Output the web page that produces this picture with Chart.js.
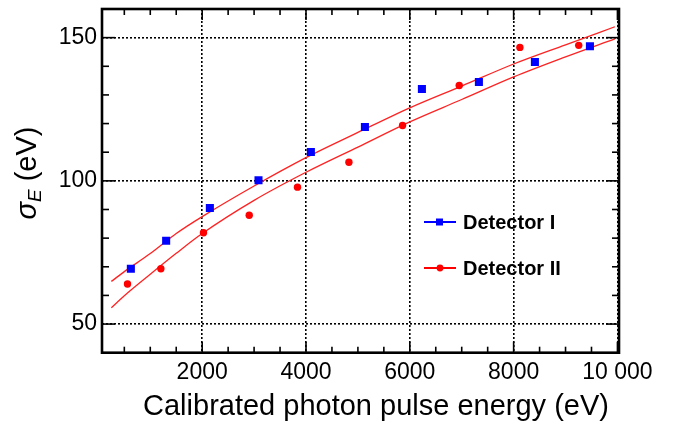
<!DOCTYPE html>
<html>
<head>
<meta charset="utf-8">
<script src="https://cdn.jsdelivr.net/npm/chart.js@4.4.1/dist/chart.umd.min.js"></script>
<style>
  html, body { margin: 0; padding: 0; background: #fff; }
</style>
</head>
<body>
<canvas id="chart" width="678" height="424"></canvas>
<script>
  // measured points (energy in eV, sigma_E in eV)
  const det1Energy = [626, 1306, 2148, 3085, 4094, 5135, 6233, 7331, 8410, 9470];
  const det1Sigma = [69.3, 79.1, 90.5, 100.2, 110.1, 118.8, 132.1, 134.5, 141.5, 147.0];
  const det2Energy = [561, 1204, 2025, 2906, 3836, 4827, 5860, 6952, 8121, 9254];
  const det2Sigma = [64.0, 69.3, 81.9, 88.0, 97.8, 106.5, 119.3, 133.3, 146.6, 147.3];

  // fit curves
  const fitEnergy = [250, 500, 1000, 1500, 2000, 3000, 4000, 5000, 6000, 7000, 8000, 9000, 9950];
  const fitUpper = [64.9, 68.3, 74.6, 81.6, 87.5, 98.2, 108.1, 116.9, 125.5, 133.1, 140.8, 147.5, 153.8];
  const fitLower = [55.7, 59.9, 67.4, 74.7, 81.6, 93.2, 103.0, 111.8, 120.6, 128.4, 136.3, 143.3, 149.6];

  const legendLabels = ["Detector I", "Detector II"];
  const xTitle = "Calibrated photon pulse energy (eV)";

  const xTickValues = [2000, 4000, 6000, 8000, 10000];
  const xTickLabels = ["2000", "4000", "6000", "8000", "10 000"];
  const xMinorTicks = [500, 1000, 1500, 2500, 3000, 3500, 4500, 5000, 5500, 6500, 7000, 7500, 8500, 9000, 9500];
  const yTickValues = [50, 100, 150];
  const yTickLabels = ["50", "100", "150"];
  const yMinorTicks = [60, 70, 80, 90, 110, 120, 130, 140];

  const FONT = '"Liberation Sans", Arial, Helvetica, sans-serif';

  function toXY(xs, ys) {
    return xs.map((x, i) => ({ x: x, y: ys[i] }));
  }

  // frame + inward ticks on all four sides (ROOT look)
  const framePlugin = {
    id: "frame",
    afterDraw(chart) {
      const { ctx, chartArea: a, scales } = chart;
      const xs = scales.x, ys = scales.y;
      ctx.save();
      ctx.strokeStyle = "#000";
      ctx.lineWidth = 1.6;
      const tick = (x1, y1, x2, y2) => {
        ctx.beginPath(); ctx.moveTo(x1, y1); ctx.lineTo(x2, y2); ctx.stroke();
      };
      xTickValues.forEach((v) => {
        const p = xs.getPixelForValue(v);
        tick(p, a.bottom, p, a.bottom - 11);
        tick(p, a.top, p, a.top + 11);
      });
      xMinorTicks.forEach((v) => {
        const p = xs.getPixelForValue(v);
        tick(p, a.bottom, p, a.bottom - 6);
        tick(p, a.top, p, a.top + 6);
      });
      yTickValues.forEach((v) => {
        const p = ys.getPixelForValue(v);
        tick(a.left, p, a.left + 13, p);
        tick(a.right, p, a.right - 13, p);
      });
      yMinorTicks.forEach((v) => {
        const p = ys.getPixelForValue(v);
        tick(a.left, p, a.left + 7, p);
        tick(a.right, p, a.right - 7, p);
      });
      ctx.lineWidth = 2.6;
      ctx.strokeRect(a.left, a.top, a.right - a.left, a.bottom - a.top);
      ctx.restore();
    },
  };

  // axis titles: x title sits a bit right of centre, y title has italic sigma + subscript E
  const titlesPlugin = {
    id: "axisTitles",
    afterDraw(chart) {
      const ctx = chart.ctx;
      ctx.save();
      ctx.fillStyle = "#000";
      ctx.textBaseline = "alphabetic";

      ctx.font = "29px " + FONT;
      ctx.textAlign = "center";
      ctx.fillText(xTitle, 376, 415);

      ctx.textAlign = "left";
      const fSig = "italic 29px " + FONT;
      const fSub = "italic 19px " + FONT;
      const fRest = "29px " + FONT;
      ctx.font = fSig; const w1 = ctx.measureText("σ").width;
      ctx.font = fSub; const w2 = ctx.measureText("E").width;
      ctx.font = fRest; const w3 = ctx.measureText(" (eV)").width;
      const total = w1 + w2 + w3;
      ctx.translate(36, 173 + total / 2);
      ctx.rotate(-Math.PI / 2);
      ctx.font = fSig; ctx.fillText("σ", 0, 0);
      ctx.font = fSub; ctx.fillText("E", w1, 5);
      ctx.font = fRest; ctx.fillText(" (eV)", w1 + w2, 0);
      ctx.restore();
    },
  };

  // legend drawn inside the frame
  const legendPlugin = {
    id: "insideLegend",
    afterDraw(chart) {
      const ctx = chart.ctx;
      ctx.save();
      const rows = [
        { y: 222, color: "#0000ff", style: "rect" },
        { y: 268, color: "#ff0000", style: "circle" },
      ];
      rows.forEach((r, i) => {
        ctx.strokeStyle = r.color;
        ctx.fillStyle = r.color;
        ctx.lineWidth = 2;
        ctx.beginPath(); ctx.moveTo(424, r.y); ctx.lineTo(456, r.y); ctx.stroke();
        if (r.style === "rect") {
          ctx.fillRect(436, r.y - 3.5, 7, 7);
        } else {
          ctx.beginPath(); ctx.arc(440, r.y, 3.4, 0, Math.PI * 2); ctx.fill();
        }
        ctx.fillStyle = "#000";
        ctx.font = "bold 20px " + FONT;
        ctx.textBaseline = "middle";
        ctx.fillText(legendLabels[i], 463, r.y + 1);
      });
      ctx.restore();
    },
  };

  const gridOpts = { color: "#000", lineWidth: 1.6, drawTicks: false };
  const borderOpts = { display: false, dash: [2, 2] };

  new Chart(document.getElementById("chart"), {
    type: "scatter",
    data: {
      datasets: [
        {
          label: legendLabels[0],
          data: toXY(det1Energy, det1Sigma),
          pointStyle: "rect",
          pointRadius: 5.7,
          backgroundColor: "#0000ff",
          borderWidth: 0,
          showLine: false,
        },
        {
          label: legendLabels[1],
          data: toXY(det2Energy, det2Sigma),
          pointStyle: "circle",
          pointRadius: 3.7,
          backgroundColor: "#ff0000",
          borderWidth: 0,
          showLine: false,
        },
        {
          label: "fit I",
          data: toXY(fitEnergy, fitUpper),
          showLine: true,
          borderColor: "#ff2222",
          borderWidth: 1.3,
          pointRadius: 0,
          cubicInterpolationMode: "monotone",
        },
        {
          label: "fit II",
          data: toXY(fitEnergy, fitLower),
          showLine: true,
          borderColor: "#ff2222",
          borderWidth: 1.3,
          pointRadius: 0,
          cubicInterpolationMode: "monotone",
        },
      ],
    },
    options: {
      responsive: false,
      animation: false,
      devicePixelRatio: 1,
      layout: { padding: { left: 0, top: 9, right: 59, bottom: 0 } },
      plugins: { legend: { display: false }, tooltip: { enabled: false } },
      scales: {
        x: {
          type: "linear",
          min: 70,
          max: 10030,
          afterBuildTicks: (s) => { s.ticks = xTickValues.map((v) => ({ value: v })); },
          afterFit: (s) => { s.height = 71.3; s.paddingLeft = 0; s.paddingRight = 0; },
          ticks: {
            callback: (v) => xTickLabels[xTickValues.indexOf(v)],
            font: { family: FONT, size: 23 },
            color: "#000",
            padding: 6,
            maxRotation: 0,
            autoSkip: false,
          },
          grid: gridOpts,
          border: borderOpts,
        },
        y: {
          type: "linear",
          min: 40,
          max: 160,
          afterBuildTicks: (s) => { s.ticks = yTickValues.map((v) => ({ value: v })); },
          afterFit: (s) => { s.width = 102; s.paddingTop = 0; s.paddingBottom = 0; },
          ticks: {
            callback: (v) => yTickLabels[yTickValues.indexOf(v)],
            font: { family: FONT, size: 23 },
            color: "#000",
            padding: 5,
          },
          grid: gridOpts,
          border: borderOpts,
        },
      },
    },
    plugins: [framePlugin, titlesPlugin, legendPlugin],
  });
</script>
</body>
</html>
